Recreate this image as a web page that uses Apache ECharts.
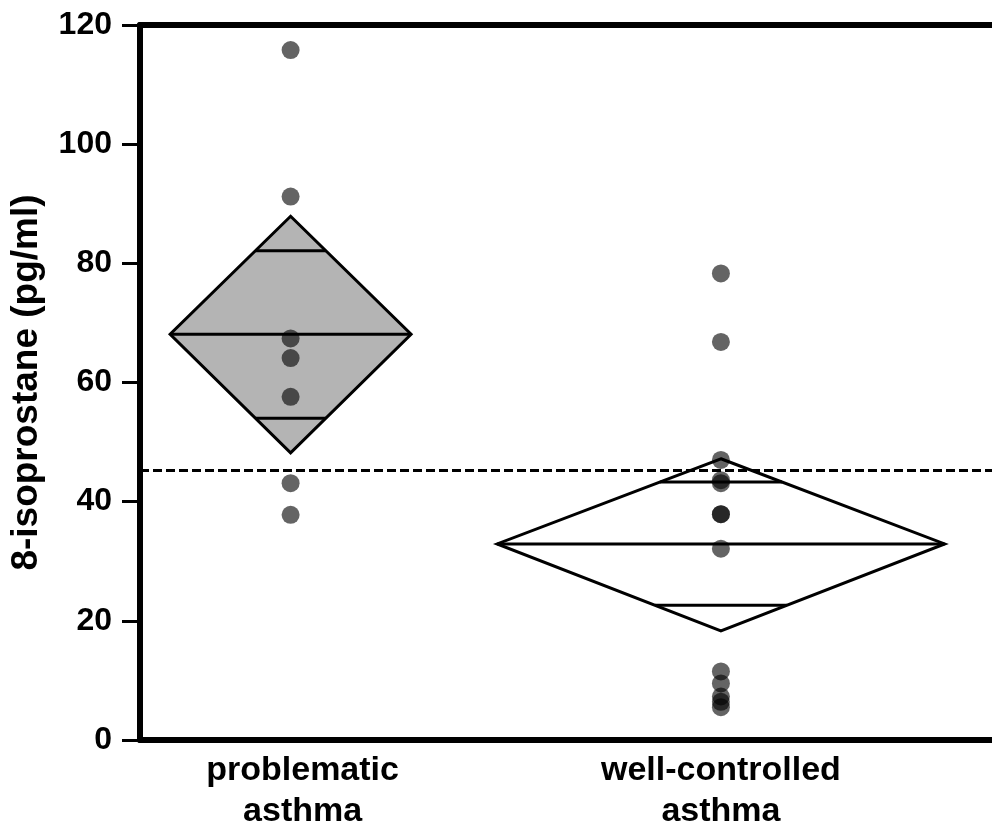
<!DOCTYPE html>
<html>
<head>
<meta charset="utf-8">
<script src="https://cdn.jsdelivr.net/npm/echarts@6/dist/echarts.min.js"></script>
<style>
html,body{margin:0;padding:0;background:#fff;overflow:hidden;}
#chart{width:992px;height:827px;}
</style>
</head>
<body>
<div id="chart"></div>
<script>
// ---- data ----
var groups = ['problematic\nasthma', 'well-controlled\nasthma'];
var problematicValues = [115.8, 91.2, 67.4, 64.1, 57.6, 43.1, 37.8];
var wellValues = [78.3, 66.8, 47.0, 43.6, 43.1, 37.9, 37.9, 32.1, 11.5, 9.5, 7.3, 6.4, 5.5];
var groupMeans = [68.1, 32.9];
var ciLower = [48.2, 18.3];
var ciUpper = [87.9, 47.2];
var overlapLower = [54.0, 22.6];
var overlapUpper = [82.1, 43.3];
var referenceLevel = 45.2;
var yTicks = [0, 20, 40, 60, 80, 100, 120];

// ---- styles ----
var diamondFills = ['#b4b4b4', '#ffffff'];
var labelShift = [24, 0];
var widthPerObs = 0.04;
var FONT = '"Liberation Sans", Arial, Helvetica, sans-serif';

var allValues = [problematicValues, wellValues];
var scatterData = [];
allValues.forEach(function (arr, gi) {
  arr.forEach(function (v) { scatterData.push([gi + 1, v]); });
});
var diamondData = groups.map(function (g, i) {
  return [i + 1, groupMeans[i], ciLower[i], ciUpper[i], overlapLower[i], overlapUpper[i], allValues[i].length * widthPerObs];
});

var catText = {fontFamily: FONT, fontWeight: 'bold', fontSize: 34, color: '#000', lineHeight: 41};
var rich = {
  g0: Object.assign({}, catText, {padding: [0, 0, 0, labelShift[0]]}),
  g1: Object.assign({}, catText, {padding: [0, 0, 0, labelShift[1]]})
};

var chart = echarts.init(document.getElementById('chart'), null, {renderer: 'canvas'});
var xMin = 0.65, xMax = 2.63;

var option = {
  backgroundColor: '#ffffff',
  animation: false,
  grid: {left: 140, right: 0, top: 25, bottom: 87, containLabel: false, outerBoundsMode: 'none'},
  xAxis: [{
    type: 'value', min: xMin, max: xMax, position: 'bottom',
    axisLine: {show: true, onZero: false, lineStyle: {color: '#000', width: 6}},
    axisTick: {show: false},
    splitLine: {show: false},
    axisLabel: {
      customValues: [1, 2],
      formatter: function (v) {
        var i = Math.round(v) - 1;
        if (!groups[i]) return '';
        return groups[i].split('\n').map(function (s) { return '{g' + i + '|' + s + '}'; }).join('\n');
      },
      rich: rich,
      fontFamily: FONT, fontWeight: 'bold', fontSize: 34, color: '#000',
      lineHeight: 41, margin: 10, align: 'center'
    }
  }, {
    type: 'value', min: xMin, max: xMax, position: 'top',
    axisLine: {show: true, onZero: false, lineStyle: {color: '#000', width: 6}},
    axisTick: {show: false}, axisLabel: {show: false}, splitLine: {show: false}
  }],
  yAxis: {
    type: 'value', min: 0, max: 120, interval: 20,
    name: '8-isoprostane (pg/ml)', nameLocation: 'middle', nameGap: 95,
    nameTextStyle: {fontFamily: FONT, fontWeight: 'bold', fontSize: 37, color: '#000'},
    axisLine: {show: true, onZero: false, lineStyle: {color: '#000', width: 6}},
    axisTick: {show: true, inside: false, length: 18, lineStyle: {color: '#000', width: 3}},
    axisLabel: {
      fontFamily: FONT, fontWeight: 'bold', fontSize: 32, color: '#000', margin: 28,
      formatter: function (v) { return yTicks.indexOf(v) >= 0 ? String(v) : ''; }
    },
    splitLine: {show: false}
  },
  series: [{
    type: 'custom',
    xAxisIndex: 0, yAxisIndex: 0,
    data: diamondData,
    encode: {x: 0, y: [1, 2, 3]},
    clip: false,
    z: 2,
    renderItem: function (params, api) {
      var x = api.value(0), mean = api.value(1), lo = api.value(2), hi = api.value(3);
      var olo = api.value(4), ohi = api.value(5), hw = api.value(6);
      var top = api.coord([x, hi]);
      var bot = api.coord([x, lo]);
      var left = api.coord([x - hw, mean]);
      var right = api.coord([x + hw, mean]);
      var hwUp = hw * (hi - ohi) / (hi - mean);
      var hwLo = hw * (olo - lo) / (mean - lo);
      var u1 = api.coord([x - hwUp, ohi]), u2 = api.coord([x + hwUp, ohi]);
      var l1 = api.coord([x - hwLo, olo]), l2 = api.coord([x + hwLo, olo]);
      var ls = {stroke: '#000', lineWidth: 3};
      return {
        type: 'group',
        children: [
          {type: 'polygon', shape: {points: [top, right, bot, left]},
           style: {fill: diamondFills[params.dataIndex], stroke: '#000', lineWidth: 3, lineJoin: 'miter'}},
          {type: 'line', shape: {x1: left[0], y1: left[1], x2: right[0], y2: right[1]}, style: ls},
          {type: 'line', shape: {x1: u1[0], y1: u1[1], x2: u2[0], y2: u2[1]}, style: ls},
          {type: 'line', shape: {x1: l1[0], y1: l1[1], x2: l2[0], y2: l2[1]}, style: ls}
        ]
      };
    }
  }, {
    type: 'scatter',
    xAxisIndex: 0, yAxisIndex: 0,
    data: scatterData,
    symbol: 'circle', symbolSize: 18,
    itemStyle: {color: 'rgba(0,0,0,0.76)'},
    z: 3,
    markLine: {
      silent: true, symbol: ['none', 'none'],
      label: {show: false},
      lineStyle: {color: '#000', width: 3, type: [9, 4]},
      data: [{yAxis: referenceLevel}]
    }
  }]
};
chart.setOption(option);
</script>
</body>
</html>
